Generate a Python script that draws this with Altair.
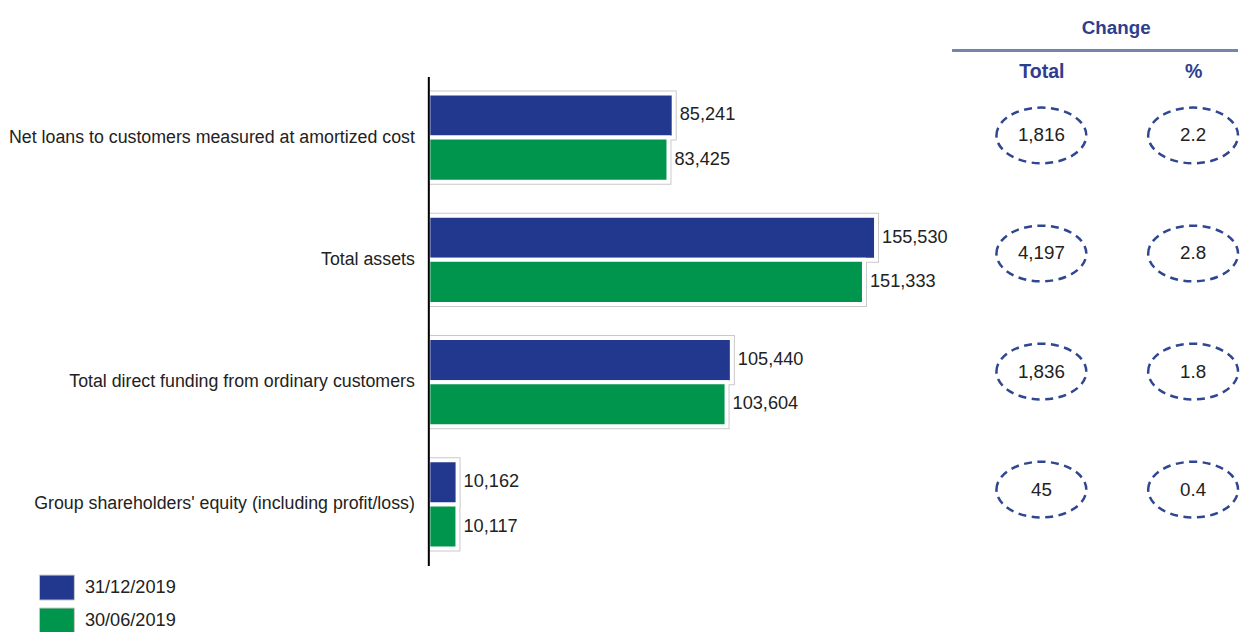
import altair as alt
import pandas as pd

categories = [
    "Net loans to customers measured at amortized cost",
    "Total assets",
    "Total direct funding from ordinary customers",
    "Group shareholders' equity (including profit/loss)",
]
series = ["31/12/2019", "30/06/2019"]
values_dec = [85241, 155530, 105440, 10162]
values_jun = [83425, 151333, 103604, 10117]
change_total = [1816, 4197, 1836, 45]
change_pct = [2.2, 2.8, 1.8, 0.4]
change_cols = ["Total", "%"]

BLUE = "#22388F"
GREEN = "#00954C"
HEAD = "#2E3E8E"
DASH = "#2F4690"
TXT = "#222222"
FONT = "Liberation Sans, Arial, sans-serif"

rows = []
for c, a, b in zip(categories, values_dec, values_jun):
    rows.append({"cat": c, "series": series[0], "value": a})
    rows.append({"cat": c, "series": series[1], "value": b})
bars_df = pd.DataFrame(rows)

chg_rows = []
for c, t, p in zip(categories, change_total, change_pct):
    chg_rows.append({"cat": c, "col": change_cols[0], "label": f"{t:,}"})
    chg_rows.append({"cat": c, "col": change_cols[1], "label": f"{p:.1f}"})
chg_df = pd.DataFrame(chg_rows)

y_enc = alt.Y(
    "cat:N",
    sort=categories,
    scale=alt.Scale(paddingInner=0.278, paddingOuter=0.139),
    axis=alt.Axis(
        title=None, ticks=False, domain=True, domainColor="black", domainWidth=2,
        labelFont=FONT, labelFontSize=17.8, labelColor=TXT, labelPadding=14,
        labelLimit=600, zindex=1,
    ),
)
yoff = alt.YOffset("series:N", sort=series, scale=alt.Scale(paddingInner=0, paddingOuter=0))
x_enc = alt.X("value:Q", scale=alt.Scale(domain=[0, 180000], nice=False), axis=None)
color_enc = alt.Color(
    "series:N", sort=series,
    scale=alt.Scale(domain=series, range=[BLUE, GREEN]),
    legend=alt.Legend(
        title=None, orient="none", legendX=-390, legendY=494, padding=0,
        symbolType="M-1,-0.714H1V0.714H-1Z", symbolSize=1225,
        symbolStrokeColor="#c8c8c8", symbolStrokeWidth=1, symbolOpacity=1,
        labelFont=FONT, labelFontSize=18.2, labelColor=TXT, labelOffset=10,
        rowPadding=-3,
    ),
)

base = alt.Chart(bars_df).encode(y=y_enc, yOffset=yoff, x=x_enc)
frame = base.mark_bar(stroke="#c9c9c9", strokeWidth=6, clip=True).encode(color=color_enc)
inner = base.mark_bar(stroke="white", strokeWidth=4, clip=True).encode(
    color=alt.Color("series:N", sort=series, scale=alt.Scale(domain=series, range=[BLUE, GREEN]), legend=None)
)
labels = base.mark_text(align="left", baseline="middle", dx=6, font=FONT, fontSize=18.2, color=TXT).encode(
    text=alt.Text("value:Q", format=",")
)
left = alt.layer(frame, inner, labels).properties(width=519, height=490)

ELLIPSE = ("M-1,0C-1,-0.34,-0.552,-0.62,0,-0.62C0.552,-0.62,1,-0.34,1,0"
           "C1,0.34,0.552,0.62,0,0.62C-0.552,0.62,-1,0.34,-1,0Z")
ry = alt.Y("cat:N", sort=categories, scale=alt.Scale(paddingInner=0, paddingOuter=0), axis=None)
rx = alt.X(
    "col:N", sort=change_cols,
    scale=alt.Scale(type="point", padding=0.408, align=0.718),
    axis=alt.Axis(
        orient="top", title=None, domain=False, ticks=False, labelAngle=0,
        labelFont=FONT, labelFontSize=19.6, labelFontWeight="bold", labelColor=HEAD,
        labelPadding=-5,
    ),
)
rbase = alt.Chart(chg_df).encode(x=rx, y=ry)
ell = rbase.mark_point(shape=ELLIPSE, size=8100, filled=False, stroke=DASH, strokeWidth=2.5,
                       strokeDash=[8, 5.5], opacity=1)
txt = rbase.mark_text(font=FONT, fontSize=18.8, color=TXT).encode(text="label:N")
rule = alt.Chart(chg_df).mark_rule(color="#7584AC", strokeWidth=2).encode(
    x=alt.value(0), x2=alt.value(286), y=alt.value(-26)
)
right = alt.layer(rule, ell, txt).properties(
    width=276, height=473,
    title=alt.TitleParams("Change", anchor="middle", dx=26, fontSize=18.8, fontWeight="bold",
                          color=HEAD, font=FONT, offset=12),
)

chart = alt.hconcat(left, right, spacing=6, bounds="flush").properties(
    padding={"left": 0, "top": 10, "right": 0, "bottom": 0}
).configure_view(stroke=None)

chart.save("out.html", embed_options={"renderer": "svg", "actions": False})
